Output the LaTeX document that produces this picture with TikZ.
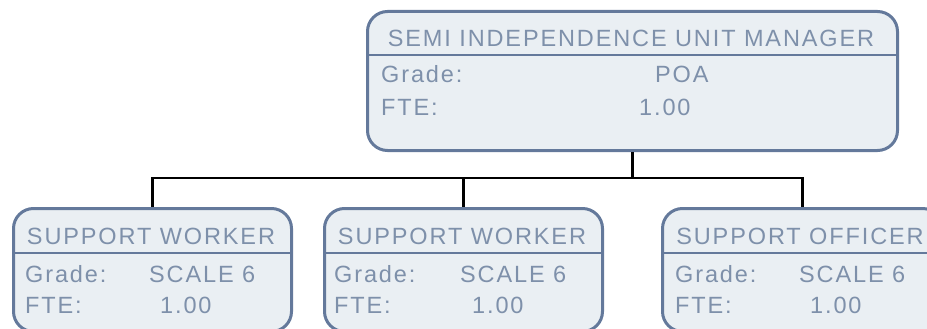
\documentclass[tikz,border=0pt]{standalone}
\usepackage{fontspec}
\setmainfont{Liberation Sans}[LetterSpace=8]
\definecolor{boxline}{RGB}{100,121,155}
\definecolor{boxfill}{RGB}{234,239,243}
\definecolor{boxtext}{RGB}{126,144,170}
\begin{document}
\begin{tikzpicture}[x=1pt,y=-1pt,
  unitbox/.style={draw=boxline,fill=boxfill,line width=3pt,rounded corners=20pt,
    rectangle,anchor=north west,inner sep=0pt,minimum height=#1},
  divider/.style={draw=boxline,line width=2.4pt},
  txt/.style={text=boxtext,inner sep=0pt,font=\fontsize{23.5}{27}\selectfont},
  title/.style={txt,anchor=base},
  lab/.style={txt,anchor=base west},
  link/.style={draw=black,line width=2.5pt}]
\useasboundingbox (0,0) rectangle (927,329);
\clip (0,0) rectangle (927,329);
% boxes
\node[unitbox=139pt,minimum width=530pt] (mgr) at (366,10) {};
\node[unitbox=123pt,minimum width=278pt] (w1) at (12,207) {};
\node[unitbox=123pt,minimum width=278pt] (w2) at (323,207) {};
\node[unitbox=123pt,minimum width=280pt] (off) at (661,207) {};
% dividers
\coordinate (dtop) at (0,55);
\coordinate (dbot) at (0,253);
\draw[divider] (mgr.west |- dtop) -- (mgr.east |- dtop);
\draw[divider] (w1.west |- dbot) -- (w1.east |- dbot);
\draw[divider] (w2.west |- dbot) -- (w2.east |- dbot);
\draw[divider] (off.west |- dbot) -- (off.east |- dbot);
% connectors
\coordinate (bus) at (631,178);
\draw[link] (mgr.south) -- (mgr.south |- bus) -| (w1.north);
\draw[link] (mgr.south |- bus) -| (w2.north);
\draw[link] (mgr.south |- bus) -| (off.north);
% manager text
\node[title] (t0) at (631,47) {SEMI INDEPENDENCE UNIT MANAGER};
\node[lab] (g0) at (381,82) {Grade:};
\node[lab] (gv0) at (655,82) {POA};
\node[lab] (f0) at (381,115) {FTE:};
\node[lab] (fv0) at (639,115) {1.00};
% worker 1
\node[title] (t1) at (151,244) {SUPPORT WORKER};
\node[lab] (g1) at (25,282) {Grade:};
\node[lab] (gv1) at (149,282) {SCALE 6};
\node[lab] (f1) at (25,313) {FTE:};
\node[lab] (fv1) at (160,313) {1.00};
% worker 2
\node[title] (t2) at (462,244) {SUPPORT WORKER};
\node[lab] (g2) at (334,282) {Grade:};
\node[lab] (gv2) at (460,282) {SCALE 6};
\node[lab] (f2) at (334,313) {FTE:};
\node[lab] (fv2) at (472,313) {1.00};
% officer
\node[title] (t3) at (800,244) {SUPPORT OFFICER};
\node[lab] (g3) at (675,282) {Grade:};
\node[lab] (gv3) at (799,282) {SCALE 6};
\node[lab] (f3) at (675,313) {FTE:};
\node[lab] (fv3) at (810,313) {1.00};
\end{tikzpicture}
\end{document}
